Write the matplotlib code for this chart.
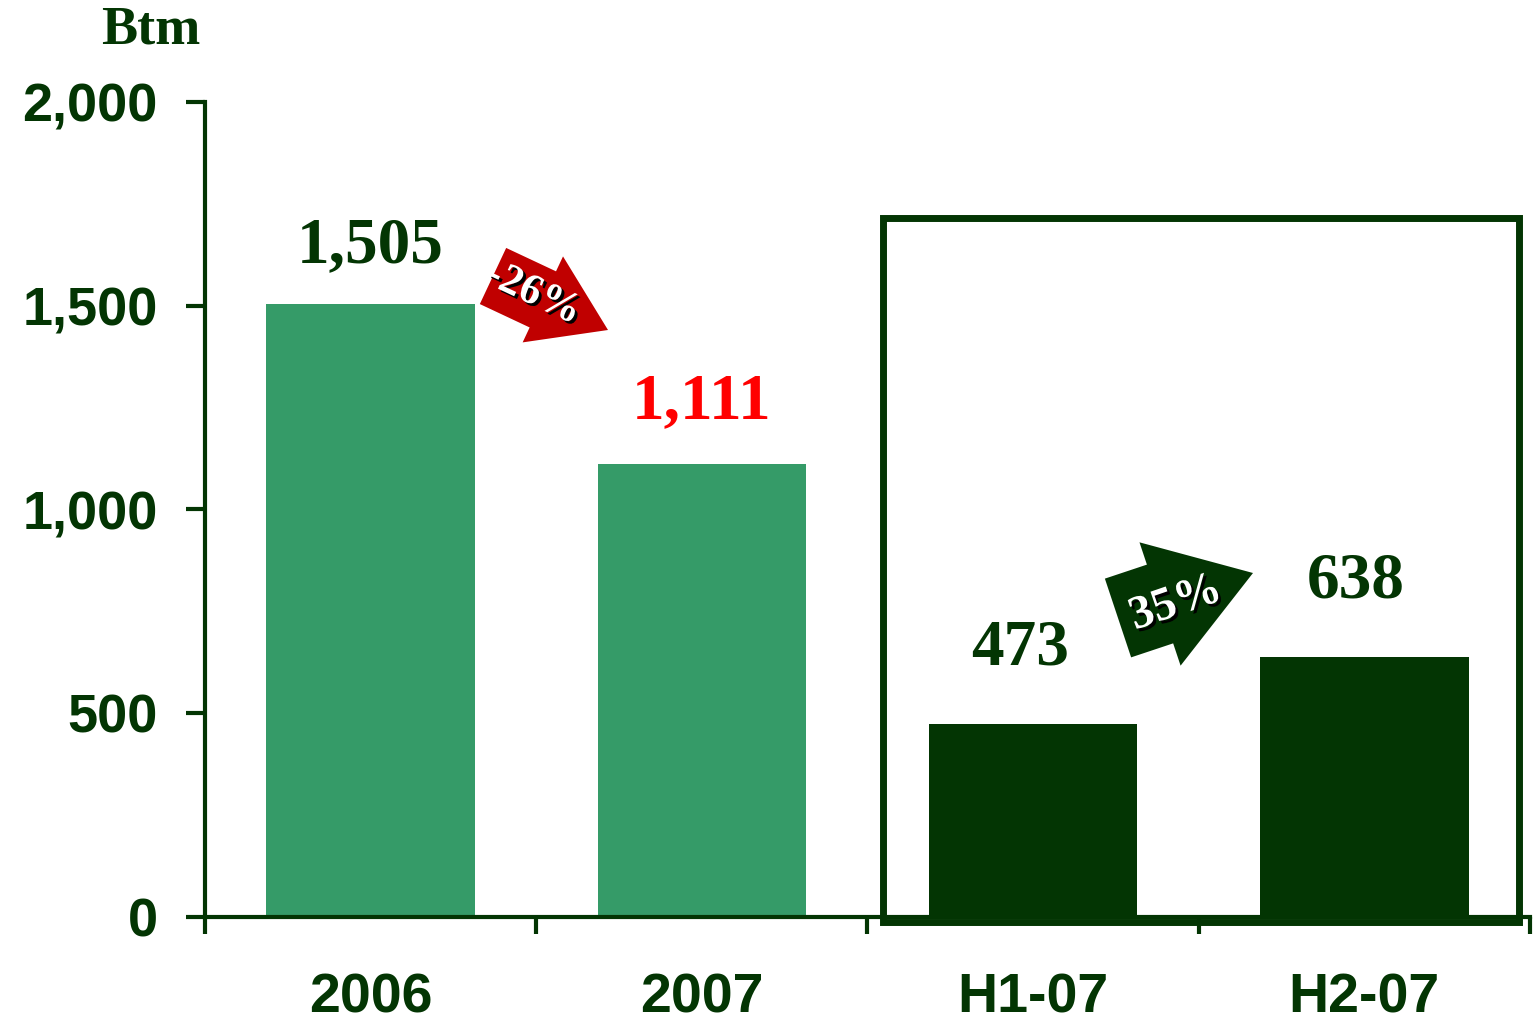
import numpy as np
import matplotlib.pyplot as plt
import matplotlib.patheffects as pe
from matplotlib.patches import Polygon, Rectangle

# data
categories = ["2006", "2007", "H1-07", "H2-07"]
values = [1505, 1111, 473, 638]
bar_colors = ["#359b68", "#359b68", "#033503", "#033503"]
label_colors = ["#033503", "#ff0000", "#033503", "#033503"]
changes = ["-26%", "35%"]
yticks = [0, 500, 1000, 1500, 2000]

DARK = "#033503"
W, H = 1537, 1025

fig = plt.figure(figsize=(W / 100, H / 100), dpi=100)
ax = fig.add_axes([205 / W, 1 - 917 / H, 1325 / W, 815 / H])

x = np.arange(len(categories))
ax.bar(x, values, width=0.63, color=bar_colors, zorder=2)
ax.set_xlim(-0.5, 3.5)
ax.set_ylim(0, 2000)

# label offsets (pixels above bar) and small x nudges
offsets = [28, 32, 46, 46]
nudges = [0, 0, -0.04, -0.025]
for xi, v, c, off, dx in zip(x, values, label_colors, offsets, nudges):
    ax.annotate(f"{v:,}", (xi + dx, v), xytext=(0, off), textcoords="offset pixels",
                ha="center", va="bottom", fontsize=47, fontweight="bold",
                family="Liberation Serif", color=c)

for s in ["top", "right"]:
    ax.spines[s].set_visible(False)
for s in ["left", "bottom"]:
    ax.spines[s].set_linewidth(3)
    ax.spines[s].set_color(DARK)

ax.set_yticks(yticks)
ax.set_yticklabels([f"{t:,}" for t in yticks], fontsize=39, fontweight="bold",
                   family="Liberation Sans", color=DARK)
ax.tick_params(axis="y", direction="out", length=14, width=3, color=DARK, pad=20)

ax.set_xticks(np.arange(-0.5, 3.6, 1.0))
ax.set_xticklabels([])
ax.tick_params(axis="x", which="major", direction="out", length=12, width=3, color=DARK)
ax.set_xticks(x, minor=True)
ax.set_xticklabels(categories, minor=True, fontsize=40, fontweight="bold",
                   family="Liberation Sans", color=DARK)
ax.tick_params(axis="x", which="minor", length=0, pad=40)

# box around the half-year bars
ax.add_patch(Rectangle((1.548, -12), 3.467 - 1.548, 1715 + 12, fill=False,
                       edgecolor=DARK, linewidth=5, clip_on=False, zorder=3))

fig.text(151 / W, 1 - 30 / H, "Btm", ha="center", va="center", fontsize=39,
         fontweight="bold", family="Liberation Serif", color=DARK)


def block_arrow(tail, tip, shaft_w, head_w, head_l, color):
    tail = np.array(tail, float)
    tip = np.array(tip, float)
    d = tip - tail
    u = d / np.hypot(*d)
    n = np.array([-u[1], u[0]])
    base = tip - u * head_l
    pts = [tail + n * shaft_w / 2, base + n * shaft_w / 2, base + n * head_w / 2, tip,
           base - n * head_w / 2, base - n * shaft_w / 2, tail - n * shaft_w / 2]
    pts = [(p[0] / W, 1 - p[1] / H) for p in pts]
    fig.add_artist(Polygon(pts, closed=True, facecolor=color, edgecolor="none",
                           transform=fig.transFigure, zorder=5))


shadow = [pe.withSimplePatchShadow(offset=(2, -2), shadow_rgbFace="black", alpha=1)]

block_arrow((493, 276), (608, 330), 62, 95, 72, "#c00000")
fig.text(533 / W, 1 - 294 / H, changes[0], ha="center", va="center", rotation=-25,
         fontsize=31, fontweight="bold", family="Liberation Serif", color="white",
         path_effects=shadow, zorder=6)

block_arrow((1118, 618), (1253, 573), 83, 130, 98, DARK)
fig.text(1176 / W, 1 - 604 / H, changes[1], ha="center", va="center", rotation=19,
         fontsize=34, fontweight="bold", family="Liberation Serif", color="white",
         path_effects=shadow, zorder=6)

fig.savefig("out.png", dpi=100)
